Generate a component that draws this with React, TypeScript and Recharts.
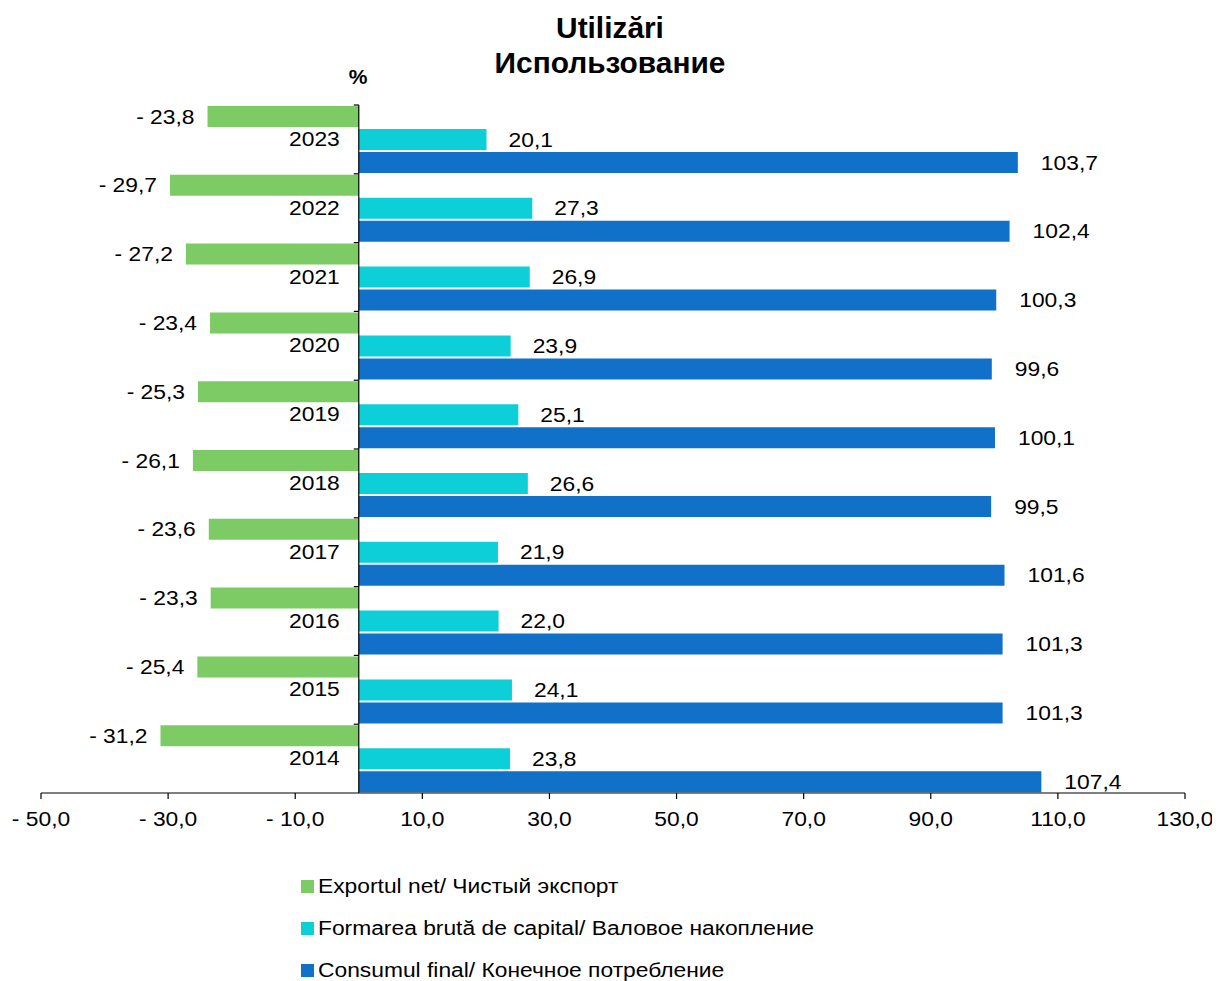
import React from 'react';
import { BarChart, Bar, XAxis, YAxis, ReferenceLine, LabelList, Legend } from 'recharts';

const years = ['2023', '2022', '2021', '2020', '2019', '2018', '2017', '2016', '2015', '2014'];
const netExport = [-23.8, -29.7, -27.2, -23.4, -25.3, -26.1, -23.6, -23.3, -25.4, -31.2];
const grossCapital = [20.1, 27.3, 26.9, 23.9, 25.1, 26.6, 21.9, 22.0, 24.1, 23.8];
const finalConsumption = [103.7, 102.4, 100.3, 99.6, 100.1, 99.5, 101.6, 101.3, 101.3, 107.4];
const xTicks = [-50, -30, -10, 10, 30, 50, 70, 90, 110, 130];

const seriesNames = [
  'Exportul net/ Чистый экспорт',
  'Formarea brută de capital/ Валовое накопление',
  'Consumul final/ Конечное потребление',
];
const colors = ['#7DCB64', '#0CCFD8', '#1170C8'];

const data = years.map((year, i) => ({
  year,
  exp: netExport[i],
  cap: grossCapital[i],
  con: finalConsumption[i],
}));

const FONT = '"Liberation Sans", Arial, sans-serif';
const FS = 19.5;
const SX = 1.17;

const fmt = (v: number) => {
  const s = Math.abs(v).toFixed(1).replace('.', ',');
  return v < 0 ? '- ' + s : s;
};

const getBox = (props: any) => {
  const vb = props.viewBox && typeof props.viewBox.x === 'number' ? props.viewBox : props;
  const x = Number(vb.x), y = Number(vb.y), w = Number(vb.width), h = Number(vb.height);
  return { left: Math.min(x, x + w), right: Math.max(x, x + w), top: Math.min(y, y + h), h: Math.abs(h) };
};

const Txt = ({ x, y, anchor, children, size = FS, weight = 'normal', sx = SX }: any) => (
  <text
    transform={`translate(${x},${y}) scale(${sx},1)`}
    textAnchor={anchor}
    fontSize={size}
    fontWeight={weight}
    fontFamily={FONT}
    fill="#000"
  >
    {children}
  </text>
);

const renderGreen = (props: any) => {
  const b = getBox(props);
  const cy = b.top + b.h / 2;
  return (
    <g>
      <line x1={b.right - 5} x2={b.right} y1={b.top - 1} y2={b.top - 1} stroke="#000" strokeWidth={1.2} />
      <Txt x={b.left - 13} y={cy + 7} anchor="end">{fmt(Number(props.value))}</Txt>
    </g>
  );
};

const renderCyan = (props: any) => {
  const b = getBox(props);
  const cy = b.top + b.h / 2;
  const idx = Number(props.index);
  return (
    <g>
      <Txt x={b.left - 19} y={cy + 6.5} anchor="end">{years[idx]}</Txt>
      <Txt x={b.right + 22} y={cy + 7} anchor="start">{fmt(Number(props.value))}</Txt>
    </g>
  );
};

const renderBlue = (props: any) => {
  const b = getBox(props);
  const cy = b.top + b.h / 2;
  return <Txt x={b.right + 23} y={cy + 7} anchor="start">{fmt(Number(props.value))}</Txt>;
};

const XTick = (props: any) => {
  const { x, y, payload } = props;
  return <Txt x={x} y={y + 25} anchor="middle">{fmt(Number(payload.value))}</Txt>;
};

const renderLegend = (props: any) => {
  const payload = [...(props.payload || [])].sort(
    (a: any, b: any) => seriesNames.indexOf(a.value) - seriesNames.indexOf(b.value)
  );
  return (
    <div style={{ fontFamily: FONT }}>
      {payload.map((e: any, i: number) => (
        <div key={i} style={{ display: 'flex', alignItems: 'center', height: 42 }}>
          <span style={{ display: 'inline-block', width: 13, height: 13, background: e.color }} />
          <span
            style={{
              marginLeft: 4,
              fontSize: 20,
              color: '#000',
              display: 'inline-block',
              transform: 'scaleX(1.14)',
              transformOrigin: 'left center',
              whiteSpace: 'nowrap',
            }}
          >
            {e.value}
          </span>
        </div>
      ))}
    </div>
  );
};

export default function App() {
  return (
    <div style={{ position: 'relative', width: 1212, height: 973 }}>
      <BarChart
        width={1212}
        height={973}
        data={data}
        layout="vertical"
        margin={{ top: 97, right: 35, bottom: 158, left: 33 }}
        barGap={2}
        barCategoryGap={1}
      >
        <XAxis
          type="number"
          domain={[-50, 130]}
          ticks={xTicks}
          interval={0}
          allowDataOverflow
          tickSize={6}
          height={30}
          axisLine={{ stroke: '#000', strokeWidth: 1.2 }}
          tickLine={{ stroke: '#000', strokeWidth: 1.2 }}
          tick={<XTick />}
        />
        <YAxis type="category" dataKey="year" hide />
        <Bar dataKey="exp" name={seriesNames[0]} fill={colors[0]} barSize={21} isAnimationActive={false}>
          <LabelList dataKey="exp" content={renderGreen} />
        </Bar>
        <Bar dataKey="cap" name={seriesNames[1]} fill={colors[1]} barSize={21} isAnimationActive={false}>
          <LabelList dataKey="cap" content={renderCyan} />
        </Bar>
        <Bar dataKey="con" name={seriesNames[2]} fill={colors[2]} barSize={21} isAnimationActive={false}>
          <LabelList dataKey="con" content={renderBlue} />
        </Bar>
        <ReferenceLine x={0} stroke="#000" strokeWidth={1.2} ifOverflow="extendDomain" />
        <Legend
          layout="horizontal"
          verticalAlign="middle"
          align="center"
          content={renderLegend}
          wrapperStyle={{ position: 'absolute', left: 293, top: 857, width: 700 }}
        />
      </BarChart>
      <svg
        width={1212}
        height={100}
        style={{ position: 'absolute', left: 0, top: 0, pointerEvents: 'none' }}
      >
        <Txt x={602} y={30} anchor="middle" size={29} weight="bold" sx={1.03}>Utilizări</Txt>
        <Txt x={602} y={65} anchor="middle" size={29} weight="bold" sx={1.03}>Использование</Txt>
        <Txt x={350} y={76} anchor="middle" size={21} weight="bold" sx={1}>%</Txt>
      </svg>
    </div>
  );
}
